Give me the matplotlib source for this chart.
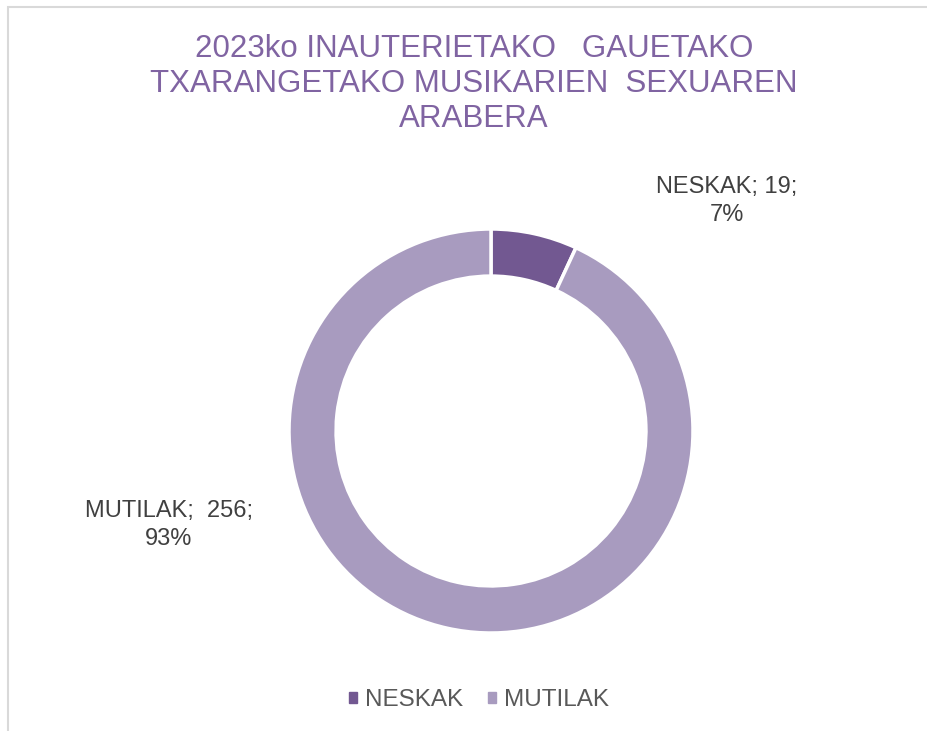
import matplotlib.pyplot as plt
import matplotlib.patches as patches

# data
labels = ['NESKAK', 'MUTILAK']
values = [19, 256]
colors = ['#725891', '#A89BBF']
title = '2023ko INAUTERIETAKO   GAUETAKO\nTXARANGETAKO MUSIKARIEN  SEXUAREN\nARABERA'

W, H = 928, 731
fig = plt.figure(figsize=(W / 100, H / 100), dpi=100)
fig.patch.set_facecolor('white')

sans = ['Liberation Sans', 'DejaVu Sans']

# outer chart frame (runs off right and bottom edge)
frame = patches.Rectangle((8 / W, -0.05), 1.1, 1 - 7 / H + 0.05,
                          transform=fig.transFigure, fill=False,
                          edgecolor='#D9D9D9', lw=1.5)
fig.patches.append(frame)

# donut, centre (491, 431) px, radius 202 px
cx, cy, r = 491, 431, 202
ax = fig.add_axes([(cx - r) / W, (H - cy - r) / H, 2 * r / W, 2 * r / H])
wedges, _ = ax.pie(values, colors=colors, startangle=90, counterclock=False,
                   radius=1.0,
                   wedgeprops=dict(width=0.233, edgecolor='white', linewidth=2.5))
ax.set_xlim(-1, 1)
ax.set_ylim(-1, 1)
ax.set_aspect('equal')
ax.axis('off')

fig.text(474 / W, 1 - 84 / H, title, ha='center', va='center',
         color='#8064A2', fontsize=22.5, family=sans, linespacing=1.2)

total = sum(values)
lab_pos = [(727, 201), (169, 525)]
lab_names = ['NESKAK; ', 'MUTILAK;  ']
for name, v, (x, y) in zip(lab_names, values, lab_pos):
    pct = round(100 * v / total)
    fig.text(x / W, 1 - y / H, f'{name}{v};\n{pct}%', ha='center',
             va='center', color='#404040', fontsize=17, family=sans,
             linespacing=1.3)

# legend
handles = [patches.Patch(color=c) for c in colors]
fig.legend(handles, labels, loc='center', bbox_to_anchor=(479 / W, 1 - 700 / H),
           ncol=2, frameon=False, handlelength=0.33, handleheight=0.33,
           handletextpad=0.3, columnspacing=1.05,
           prop={'family': sans, 'size': 17.5}, labelcolor='#595959')

fig.savefig('out.png', dpi=100)
